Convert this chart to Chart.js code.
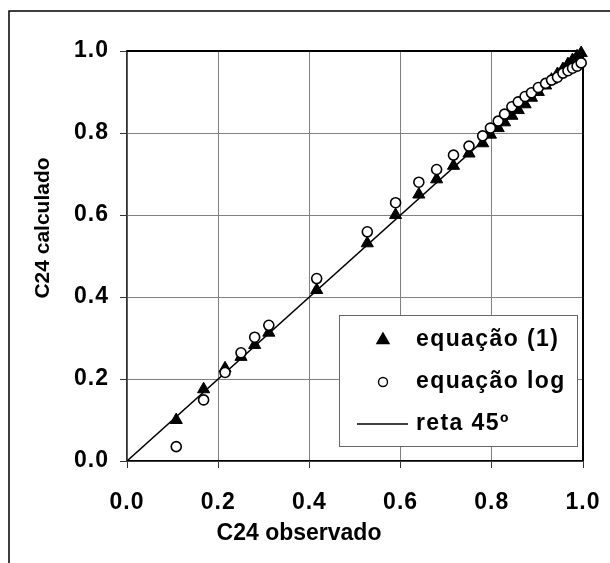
<!DOCTYPE html>
<html>
<head>
<meta charset="utf-8">
<script src="https://cdn.jsdelivr.net/npm/chart.js@4/dist/chart.umd.min.js"></script>
<style>
  body { margin: 0; background: #fff; }
  #grafico { display: block; }
</style>
</head>
<body>
<canvas id="grafico" width="610" height="563"></canvas>
<script>
// C24 observado (eixo x), comum às duas séries
const c24Observado = [0.108, 0.168, 0.215, 0.250, 0.280, 0.311, 0.416, 0.527, 0.589, 0.640,
  0.679, 0.716, 0.750, 0.780, 0.797, 0.814, 0.828, 0.844, 0.858, 0.873,
  0.887, 0.902, 0.918, 0.931, 0.944, 0.956, 0.967, 0.977, 0.987, 0.996];
// C24 calculado pela equação (1)
const c24Equacao1 = [0.100, 0.175, 0.226, 0.254, 0.283, 0.313, 0.417, 0.531, 0.600, 0.650,
  0.687, 0.720, 0.750, 0.775, 0.796, 0.812, 0.826, 0.842, 0.856, 0.870,
  0.886, 0.900, 0.916, 0.930, 0.944, 0.956, 0.968, 0.978, 0.987, 0.995];
// C24 calculado pela equação log
const c24EquacaoLog = [0.035, 0.149, 0.216, 0.264, 0.302, 0.331, 0.445, 0.559, 0.630, 0.680,
  0.711, 0.746, 0.768, 0.793, 0.812, 0.829, 0.846, 0.864, 0.876, 0.889,
  0.898, 0.911, 0.921, 0.929, 0.936, 0.946, 0.952, 0.958, 0.963, 0.971];
// reta de 45 graus
const reta45X = [0, 1];
const reta45Y = [0, 1];
const ticksEixo = [0.0, 0.2, 0.4, 0.6, 0.8, 1.0];
const nomesSeries = ['equação (1)', 'equação log', 'reta 45º'];
const tituloX = 'C24 observado';
const tituloY = 'C24 calculado';

const FONTE = '"Liberation Sans", Arial, sans-serif';
Chart.defaults.font.family = FONTE;
Chart.defaults.color = '#000';

function pontos(xs, ys) {
  return xs.map((x, i) => ({ x: x, y: ys[i] }));
}

// fixa o tamanho do eixo e zera o padding extra que o Chart.js calcula
function fixarEixo(scale, prop, valor) {
  scale[prop] = valor;
  scale.paddingLeft = 0;
  scale.paddingRight = 0;
  scale.paddingTop = 0;
  scale.paddingBottom = 0;
}

// desenha o marcador de uma série (usado na legenda)
function marcador(ctx, estilo, x, y, r) {
  ctx.save();
  ctx.lineWidth = 1.4;
  ctx.strokeStyle = '#000';
  if (estilo === 'triangle') {
    ctx.fillStyle = '#000';
    ctx.beginPath();
    ctx.moveTo(x, y - r);
    ctx.lineTo(x + r * 0.866, y + r * 0.5);
    ctx.lineTo(x - r * 0.866, y + r * 0.5);
    ctx.closePath();
    ctx.fill();
    ctx.stroke();
  } else if (estilo === 'circle') {
    ctx.fillStyle = '#fff';
    ctx.beginPath();
    ctx.arc(x, y, r, 0, Math.PI * 2);
    ctx.fill();
    ctx.stroke();
  } else {
    ctx.lineWidth = 1.5;
    ctx.beginPath();
    ctx.moveTo(x - 26, y);
    ctx.lineTo(x + 25, y);
    ctx.stroke();
  }
  ctx.restore();
}

const molduraPlugin = {
  id: 'moldura',
  beforeDraw(chart) {
    const ctx = chart.ctx;
    ctx.save();
    ctx.fillStyle = '#fff';
    ctx.fillRect(0, 0, chart.width, chart.height);
    // moldura externa (só topo e esquerda ficam visíveis)
    ctx.strokeStyle = '#000';
    ctx.lineWidth = 1.5;
    ctx.beginPath();
    ctx.moveTo(9, chart.height);
    ctx.lineTo(9, 11);
    ctx.lineTo(chart.width, 11);
    ctx.stroke();
    ctx.restore();
    ctx.letterSpacing = '1px';
  },
  beforeDatasetsDraw(chart) {
    const a = chart.chartArea;
    const ctx = chart.ctx;
    ctx.save();
    ctx.strokeStyle = '#000';
    ctx.lineWidth = 2;
    ctx.beginPath();
    ctx.moveTo(a.left, a.top);
    ctx.lineTo(a.right, a.top);
    ctx.lineTo(a.right, a.bottom);
    ctx.stroke();
    ctx.restore();
  },
  afterDraw(chart) {
    const ctx = chart.ctx;
    const a = chart.chartArea;
    ctx.save();
    ctx.letterSpacing = '0px';
    ctx.fillStyle = '#000';
    ctx.textAlign = 'center';
    ctx.textBaseline = 'middle';
    ctx.font = 'bold 23px ' + FONTE;
    ctx.fillText(tituloX, 299, 534);
    ctx.font = 'bold 21px ' + FONTE;
    ctx.translate(43, 228);
    ctx.rotate(-Math.PI / 2);
    ctx.fillText(tituloY, 0, 0);
    ctx.restore();

    // legenda dentro da área do gráfico
    const esq = a.right - 244, topo = a.bottom - 146, larg = 238, alt = 131;
    ctx.save();
    ctx.fillStyle = '#fff';
    ctx.fillRect(esq, topo, larg, alt);
    ctx.strokeStyle = '#666';
    ctx.lineWidth = 1;
    ctx.strokeRect(esq + 0.5, topo + 0.5, larg, alt);
    ctx.font = 'bold 23px ' + FONTE;
    ctx.letterSpacing = '1.4px';
    ctx.fillStyle = '#000';
    ctx.textAlign = 'left';
    ctx.textBaseline = 'alphabetic';
    const estilos = ['triangle', 'circle', 'line'];
    const raios = [7, 4.5, 0];
    chart.data.datasets.forEach((ds, i) => {
      const yb = topo + 31 + i * 42;
      marcador(ctx, estilos[i], esq + 44, yb - 6, raios[i]);
      ctx.fillText(ds.label, esq + 77, yb);
    });
    ctx.restore();
  }
};

new Chart(document.getElementById('grafico'), {
  type: 'scatter',
  data: {
    datasets: [
      {
        label: nomesSeries[0],
        data: pontos(c24Observado, c24Equacao1),
        pointStyle: 'triangle',
        pointRadius: 7,
        pointBackgroundColor: '#000',
        pointBorderColor: '#000',
        pointBorderWidth: 1,
        order: 2,
        clip: false
      },
      {
        label: nomesSeries[1],
        data: pontos(c24Observado, c24EquacaoLog),
        pointStyle: 'circle',
        pointRadius: 5,
        pointBackgroundColor: '#fff',
        pointBorderColor: '#000',
        pointBorderWidth: 1.6,
        order: 1,
        clip: false
      },
      {
        label: nomesSeries[2],
        data: pontos(reta45X, reta45Y),
        showLine: true,
        borderColor: '#000',
        borderWidth: 1.5,
        pointRadius: 0,
        order: 3
      }
    ]
  },
  options: {
    responsive: false,
    animation: false,
    devicePixelRatio: 1,
    layout: { padding: { top: 51, right: 27, left: 0, bottom: 0 } },
    plugins: { legend: { display: false }, tooltip: { enabled: false } },
    scales: {
      x: {
        min: 0, max: 1,
        afterFit(scale) { fixarEixo(scale, 'height', 102); },
        afterBuildTicks(scale) { scale.ticks = ticksEixo.map(v => ({ value: v })); },
        ticks: {
          padding: 21,
          font: { size: 23, weight: 'bold' },
          color: '#000',
          maxRotation: 0,
          callback: v => Number(v).toFixed(1)
        },
        grid: { color: '#808080', lineWidth: 1, tickLength: 7, tickColor: '#333' },
        border: { color: '#000', width: 1.5 }
      },
      y: {
        min: 0, max: 1,
        afterFit(scale) { fixarEixo(scale, 'width', 127); },
        afterBuildTicks(scale) { scale.ticks = ticksEixo.map(v => ({ value: v })); },
        ticks: {
          padding: 11,
          font: { size: 23, weight: 'bold' },
          color: '#000',
          callback: v => Number(v).toFixed(1)
        },
        grid: { color: '#808080', lineWidth: 1, tickLength: 7, tickColor: '#333' },
        border: { color: '#333', width: 1.5 }
      }
    }
  },
  plugins: [molduraPlugin]
});
</script>
</body>
</html>
